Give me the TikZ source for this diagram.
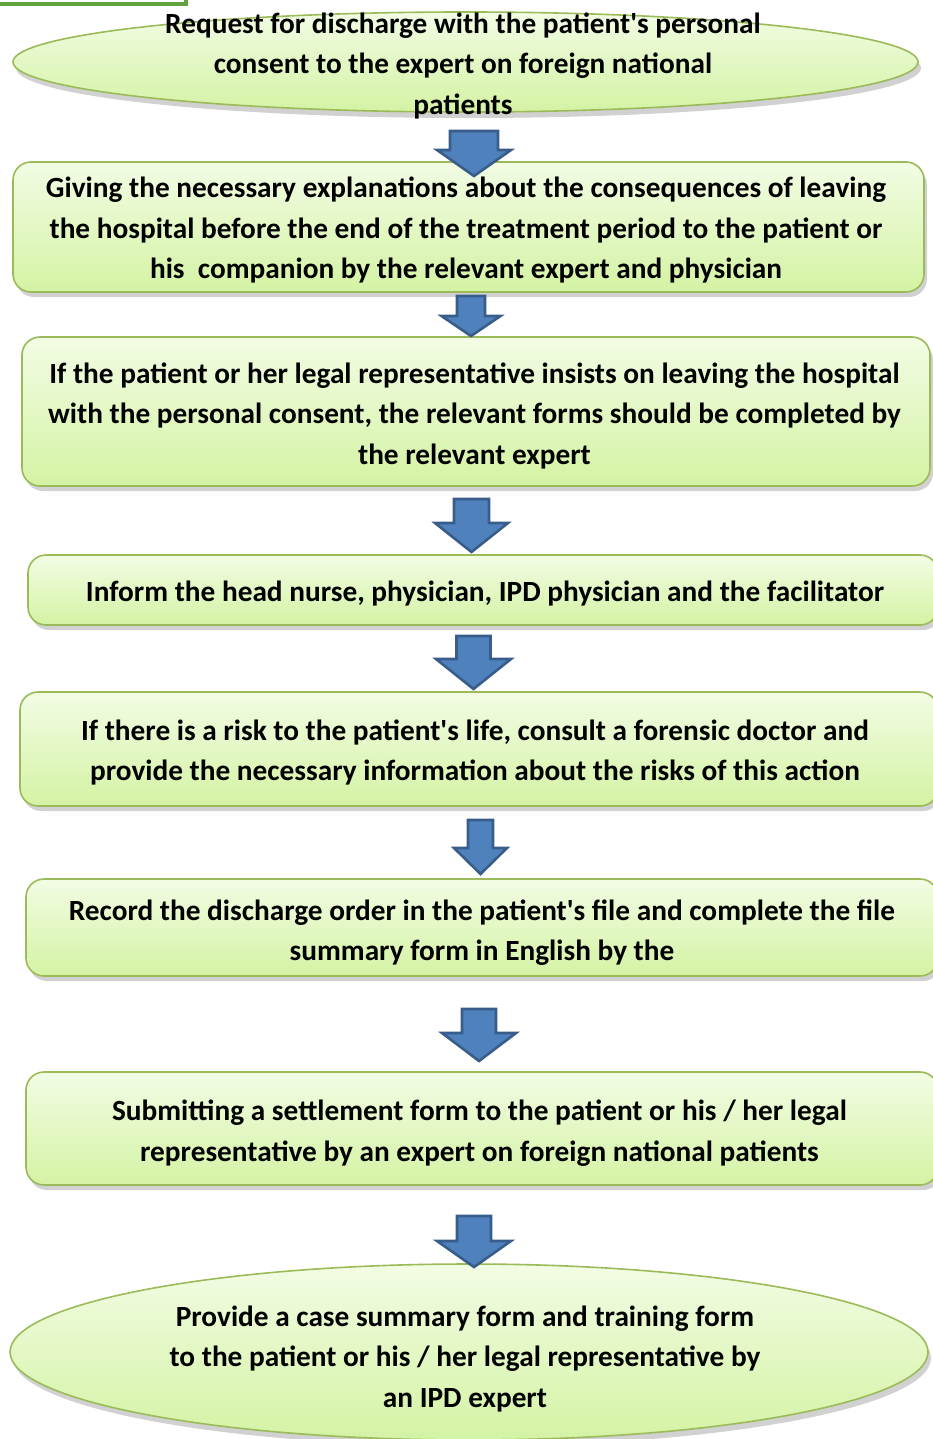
\documentclass[tikz,border=0pt]{standalone}
\usepackage{fontspec}
\setmainfont{Carlito}[Ligatures=TeXOff]
\usetikzlibrary{shapes.geometric,shadows}
\definecolor{boxline}{RGB}{155,187,89}
\definecolor{boxtop}{RGB}{242,252,228}
\definecolor{boxbot}{RGB}{212,243,164}
\definecolor{arrfill}{RGB}{79,129,189}
\definecolor{arrline}{RGB}{56,93,138}
\definecolor{barline}{RGB}{96,164,64}
\tikzset{
  flowbox/.style={draw=boxline, line width=1.6pt, rounded corners=18pt, top color=boxtop, bottom color=boxbot,
    drop shadow={shadow xshift=3pt, shadow yshift=-5pt, opacity=0.3, fill=black!60}, inner sep=0pt},
  flowell/.style={ellipse, draw=boxline, line width=1.6pt, top color=boxtop, bottom color=boxbot,
    drop shadow={shadow xshift=3pt, shadow yshift=-6pt, opacity=0.3, fill=black!60}, inner sep=0pt},
  flowtext/.style={align=center, font=\bfseries\fontsize{29.3}{40.5}\selectfont, inner sep=0pt},
  barrow/.style={fill=arrfill, draw=arrline, line width=2.6pt, line join=miter},
}
\newcommand{\blockarrow}[6]{%
  \draw[barrow] ({#1-#5},#2) -- ({#1+#5},#2) -- ({#1+#5},#3) -- ({#1+#6},#3) -- (#1,#4) -- ({#1-#6},#3) -- ({#1-#5},#3) -- cycle;}
\begin{document}
\begin{tikzpicture}[x=1pt,y=-1pt]
\useasboundingbox (0,0) rectangle (932,1439);
% partial green bar top-left
\draw[barline, line width=4pt, fill=white] (-10,-10) rectangle (186,4.5);
% shapes
\node[flowell, minimum width=905pt, minimum height=100pt] (e1) at (465.5,62) {};
\node[flowbox, minimum width=911pt, minimum height=130pt] (b2) at (468.5,227) {};
\node[flowbox, minimum width=908pt, minimum height=149pt] (b3) at (476,411.5) {};
\node[flowbox, minimum width=910pt, minimum height=70pt] (b4) at (483,590) {};
\node[flowbox, minimum width=918pt, minimum height=114pt] (b5) at (479,749) {};
\node[flowbox, minimum width=912pt, minimum height=97pt] (b6) at (482,927.5) {};
\node[flowbox, minimum width=912pt, minimum height=113pt] (b7) at (482,1128.5) {};
\node[flowell, minimum width=918pt, minimum height=176pt] (e8) at (469,1352) {};
% texts
\node[flowtext] (t1) at (463,66) {Request for discharge with the patient's personal\\consent to the expert on foreign national\\patients};
\node[flowtext] (t2) at (466,230.5) {Giving the necessary explanations about the consequences of leaving\\the hospital before the end of the treatment period to the patient or\\his\ \ companion by the relevant expert and physician};
\node[flowtext] (t3) at (474.5,415.5) {If the patient or her legal representative insists on leaving the hospital\\with the personal consent, the relevant forms should be completed by\\the relevant expert};
\node[flowtext] (t4) at (485,594) {Inform the head nurse, physician, IPD physician and the facilitator};
\node[flowtext] (t5) at (475,752.5) {If there is a risk to the patient's life, consult a forensic doctor and\\provide the necessary information about the risks of this action};
\node[flowtext] (t6) at (482,932.5) {Record the discharge order in the patient's file and complete the file\\summary form in English by the};
\node[flowtext] (t7) at (479.5,1133) {Submitting a settlement form to the patient or his / her legal\\representative by an expert on foreign national patients};
\node[flowtext] (t8) at (465,1359) {Provide a case summary form and training form\\to the patient or his / her legal representative by\\an IPD expert};
% block arrows
\blockarrow{474}{131}{150}{176}{24}{37}
\blockarrow{471}{296}{316}{336}{14}{29.5}
\blockarrow{471.5}{499}{523}{552}{17.5}{36.5}
\blockarrow{473.5}{636}{659}{689}{17}{37.5}
\blockarrow{480.5}{820}{848}{874}{12.5}{26.5}
\blockarrow{479}{1009}{1033}{1061}{17}{37}
\blockarrow{474}{1216}{1241}{1267}{17}{37}
\end{tikzpicture}
\end{document}
